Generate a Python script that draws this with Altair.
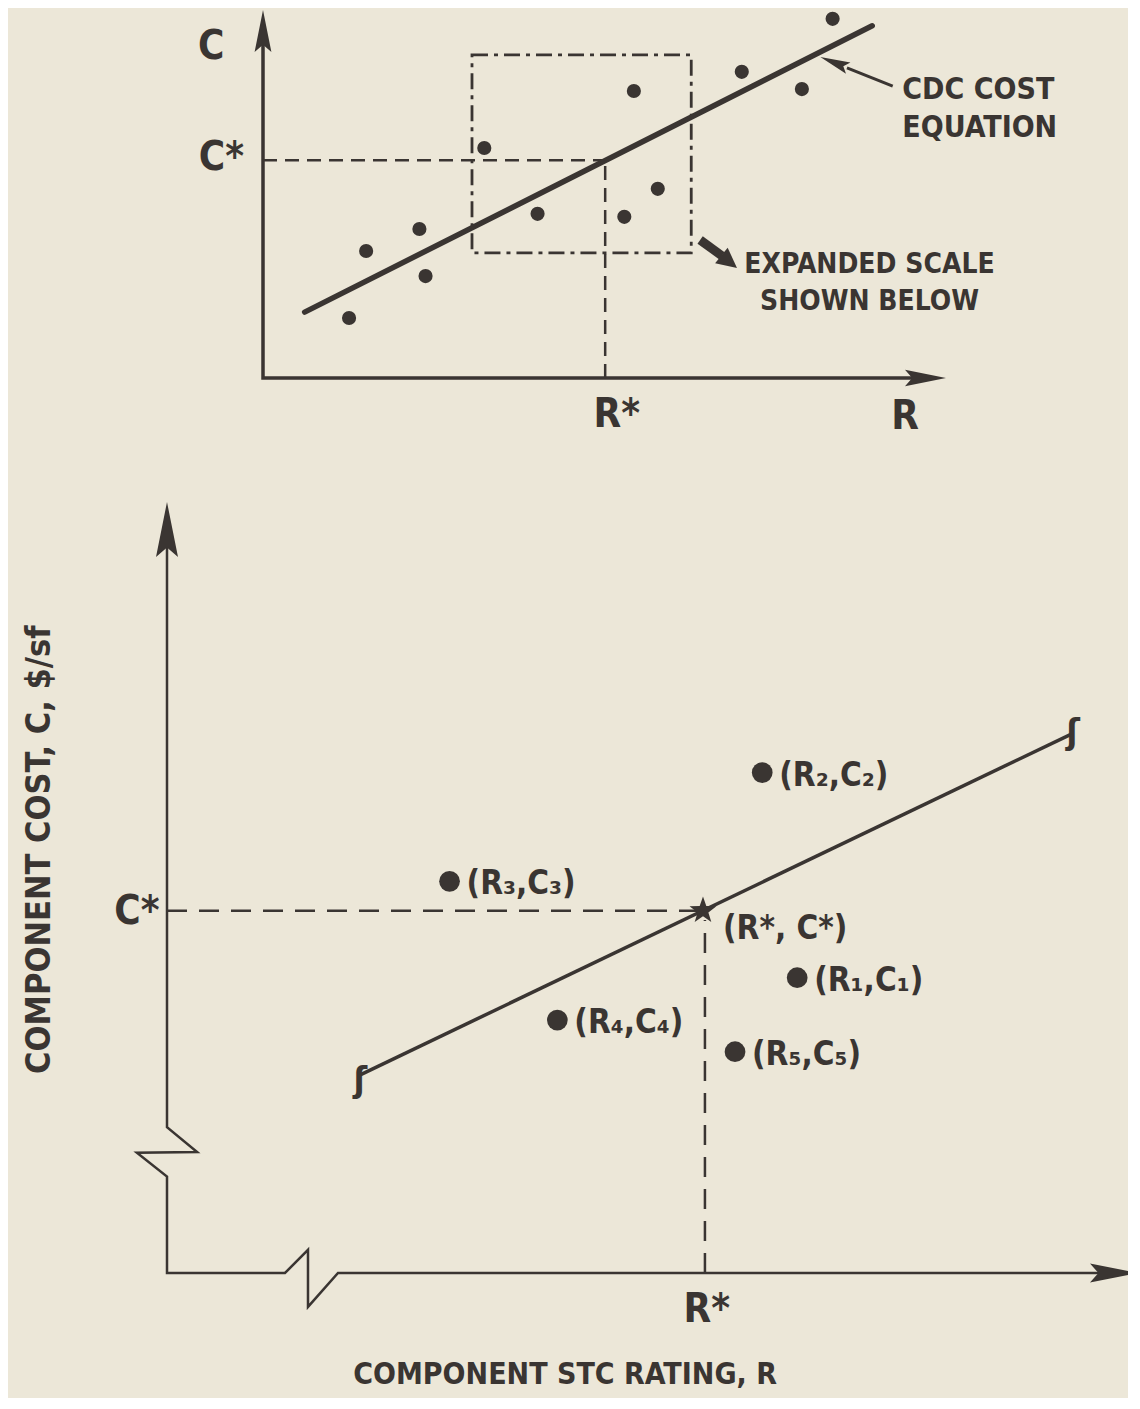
import altair as alt
import pandas as pd

# ---------------- data (diagram units) ----------------
# top panel : overview scatter with CDC cost equation
top_r = [1.26, 1.51, 2.29, 2.38, 3.24, 4.02, 5.29, 5.43, 5.78, 7.01, 7.89, 8.34]
top_c = [1.63, 3.45, 4.05, 2.77, 6.25, 4.46, 4.38, 7.80, 5.14, 8.32, 7.85, 9.76]
top_fit_r = [0.61, 8.92]
top_fit_c = [1.79, 9.57]
top_rstar, top_cstar = 5.01, 5.92
top_box_r = [3.06, 6.27]
top_box_c = [3.40, 8.78]
top_axis_r = [0, 0, 9.6]
top_axis_c = [9.5, 0, 0]

# bottom panel : expanded scale
bot_labels = ["(R\u2081,C\u2081)", "(R\u2082,C\u2082)", "(R\u2083,C\u2083)", "(R\u2084,C\u2084)", "(R\u2085,C\u2085)"]
bot_r = [6.49, 6.13, 2.91, 4.02, 5.85]
bot_c = [3.83, 6.49, 5.08, 3.28, 2.87]
bot_fit_r = [1.99, 9.33]
bot_fit_c = [2.57, 7.00]
bot_rstar, bot_cstar = 5.52, 4.70
bot_axis_r = [0, 0, 0.31, -0.31, 0, 0, 1.215, 1.452, 1.452, 1.761, 9.6]
bot_axis_c = [9.5, 1.89, 1.57, 1.56, 1.25, 0, 0, 0.30, -0.44, 0, 0]

# ---------------- style / layout ----------------
FONT = "Liberation Sans Narrow, DejaVu Sans Condensed, Arial Narrow, sans-serif"
INK = "#3a3532"
BG = "#ece7d8"
W, H = 1120, 1390
PAGE_L, PAGE_T = 8, 8
PANELS = {
    "top": dict(ox=263, oy=378, ux=68.3, uy=36.8),
    "bot": dict(ox=167, oy=1273, ux=97.1, uy=77.1),
}
ARROW = "M0,0L-2,-0.4L-1.65,0L-2,0.4Z"
HEAD = "M0,0L-2,-1L-2,1Z"
STAR = ("M0,-1L0.235,-0.324L0.951,-0.309L0.380,0.124L0.588,0.809L0,0.4"
        "L-0.588,0.809L-0.380,0.124L-0.951,-0.309L-0.235,-0.324Z")


def sc(p):
    g = PANELS[p]
    xs = alt.Scale(domain=[(PAGE_L - g["ox"]) / g["ux"], (PAGE_L + W - g["ox"]) / g["ux"]], nice=False, zero=False)
    ys = alt.Scale(domain=[(g["oy"] - (PAGE_T + H)) / g["uy"], (g["oy"] - PAGE_T) / g["uy"]], nice=False, zero=False)
    return xs, ys


def xy(p):
    xs, ys = sc(p)
    return dict(x=alt.X("r:Q", scale=xs, axis=None), y=alt.Y("c:Q", scale=ys, axis=None))


def polyline(p, rs, cs, **kw):
    df = pd.DataFrame({"r": rs, "c": cs, "i": range(len(rs))})
    return alt.Chart(df).mark_line(color=INK, strokeJoin="miter", **kw).encode(order=alt.Order("i:Q"), **xy(p))


def rules(p, segs, **kw):
    df = pd.DataFrame(segs, columns=["r", "c", "r2", "c2"])
    return alt.Chart(df).mark_rule(color=INK, **kw).encode(x2="r2:Q", y2="c2:Q", **xy(p))


def heads(p, rs, cs, angles, sizes, shape=ARROW):
    df = pd.DataFrame({"r": rs, "c": cs, "a": angles, "s": sizes})
    return alt.Chart(df).mark_point(shape=shape, filled=True, color=INK, opacity=1, strokeWidth=0).encode(
        angle=alt.Angle("a:Q", scale=None), size=alt.Size("s:Q", scale=None), **xy(p))


def texts(p, rs, cs, labels, size, align="center", angle=0, **kw):
    df = pd.DataFrame({"r": rs, "c": cs, "t": labels})
    return alt.Chart(df).mark_text(font=FONT, fontWeight="bold", fontSize=size, color=INK, align=align,
                                   baseline="middle", angle=angle, **kw).encode(text="t:N", **xy(p))


layers = []

# ---------- top panel ----------
layers.append(polyline("top", top_axis_r, top_axis_c, strokeWidth=3.5))
layers.append(heads("top", [0, 10], [10, 0], [270, 0], [1764, 1681]))
layers.append(rules("top", [(0, top_cstar, top_rstar, top_cstar), (top_rstar, 0, top_rstar, top_cstar)],
                    strokeWidth=2.5, strokeDash=[14, 8]))
box_df = pd.DataFrame({"r": [top_box_r[0]], "r2": [top_box_r[1]], "c": [top_box_c[0]], "c2": [top_box_c[1]]})
layers.append(alt.Chart(box_df).mark_rect(fillOpacity=0, stroke=INK, strokeWidth=2.8, strokeDash=[16, 6, 4, 6])
              .encode(x2="r2:Q", y2="c2:Q", **xy("top")))
layers.append(polyline("top", top_fit_r, top_fit_c, strokeWidth=5.5, strokeCap="round"))
layers.append(alt.Chart(pd.DataFrame({"r": top_r, "c": top_c})).mark_circle(size=200, color=INK, opacity=1)
              .encode(**xy("top")))
layers.append(texts("top", [-0.76, -0.61, 5.18, 9.40], [8.99, 5.98, -1.01, -1.06], ["C", "C*", "R*", "R"], 40))
layers.append(texts("top", [9.36, 9.36], [7.83, 6.79], ["CDC COST", "EQUATION"], 30, align="left"))
layers.append(texts("top", [8.88, 8.88], [3.07, 2.07], ["EXPANDED SCALE", "SHOWN BELOW"], 28))
layers.append(polyline("top", [9.22, 8.55], [7.93, 8.43], strokeWidth=3))
layers.append(heads("top", [8.16], [8.72], [201.7], [900]))
layers.append(polyline("top", [6.40, 6.72], [3.75, 3.32], strokeWidth=9))
layers.append(heads("top", [6.94], [2.99], [38.7], [400], shape=HEAD))

# ---------- bottom panel ----------
layers.append(polyline("bot", bot_axis_r, bot_axis_c, strokeWidth=2.5))
layers.append(heads("bot", [0, 10], [10, 0], [270, 0], [3025, 2304]))
layers.append(rules("bot", [(0, bot_cstar, bot_rstar, bot_cstar), (bot_rstar + 0.02, 0, bot_rstar + 0.02, bot_cstar - 0.12)],
                    strokeWidth=2.5, strokeDash=[20, 12]))
layers.append(polyline("bot", bot_fit_r, bot_fit_c, strokeWidth=3.5))
layers.append(texts("bot", [bot_fit_r[0], bot_fit_r[1]], [bot_fit_c[0] - 0.08, bot_fit_c[1]], ["\u0283", "\u0283"], 36))
layers.append(alt.Chart(pd.DataFrame({"r": bot_r, "c": bot_c})).mark_circle(size=430, color=INK, opacity=1)
              .encode(**xy("bot")))
layers.append(heads("bot", [bot_rstar], [bot_cstar], [0], [800], shape=STAR))
layers.append(texts("bot", bot_r, bot_c, bot_labels, 33, align="left", dx=17, dy=3))
layers.append(texts("bot", [bot_rstar], [bot_cstar], ["(R*, C*)"], 33, align="left", dx=20, dy=18))
layers.append(texts("bot", [-0.31, 5.56], [4.68, -0.48], ["C*", "R*"], 40))
layers.append(texts("bot", [4.10], [-1.32], ["COMPONENT STC RATING, R"], 30))
layers.append(texts("bot", [-1.31], [5.49], ["COMPONENT COST, C,   $/sf"], 34, angle=270))

chart = (
    alt.layer(*layers)
    .resolve_scale(x="independent", y="independent")
    .properties(width=W, height=H, padding=0, autosize="none", background=BG)
    .configure_view(strokeOpacity=0)
)

chart.save("out.html", embed_options={"renderer": "svg", "actions": False})
